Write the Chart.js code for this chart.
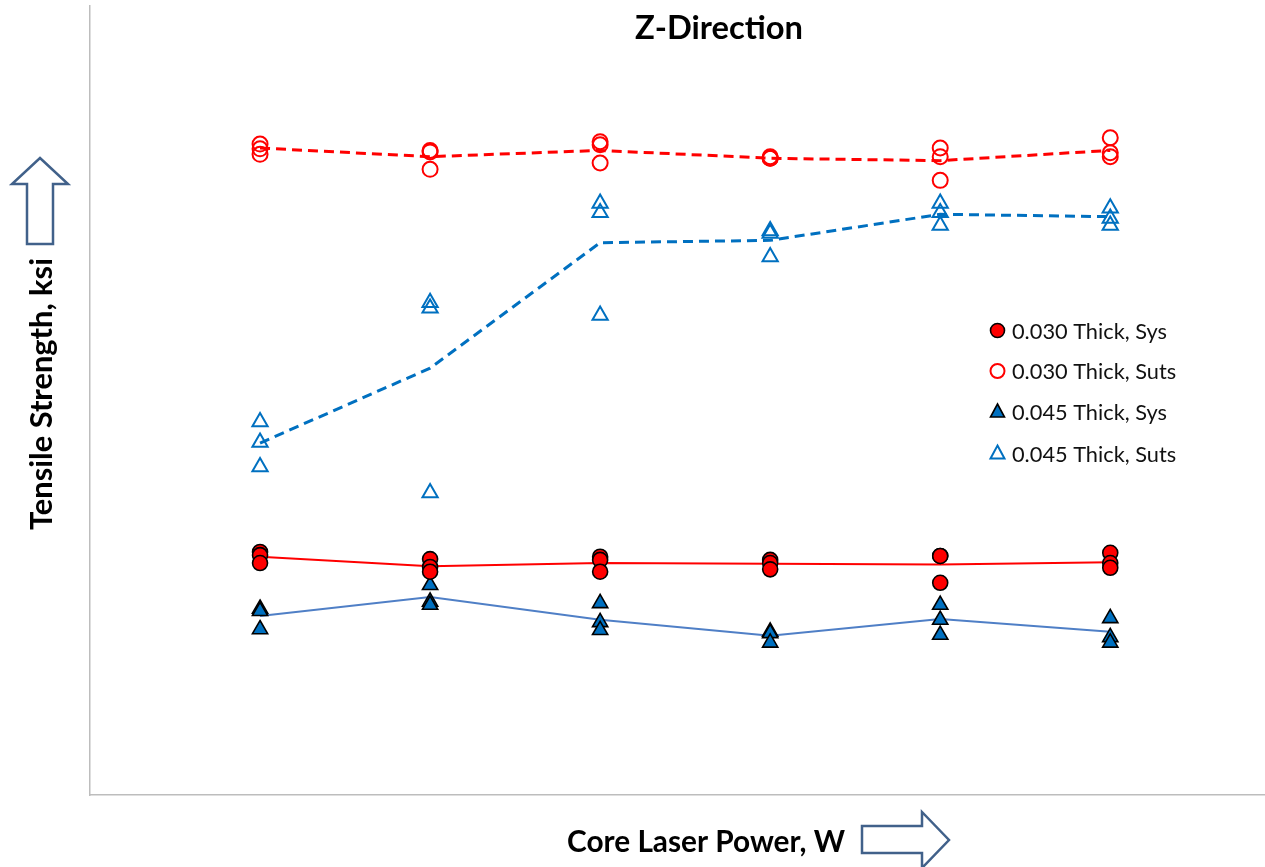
<!DOCTYPE html>
<html>
<head>
<meta charset="utf-8">
<style>
html,body{margin:0;padding:0;background:#fff;}
#wrap{width:1265px;height:867px;position:relative;}
</style>
<script src="https://cdn.jsdelivr.net/npm/chart.js@4/dist/chart.umd.min.js"></script>
</head>
<body>
<div id="wrap"><canvas id="c" width="1265" height="867"></canvas></div>
<script>
// Power levels (positions along the x axis; no tick labels in the original)
const powerLevels = [1, 2, 3, 4, 5, 6];

// Replicate readings per power level (arbitrary ksi units)
const sys030 = [[30.8,30.4,29.4],[29.9,28.9,28.3],[30.2,29.8,28.3],[29.8,29.4,28.6],[30.3,30.3,26.9],[30.7,29.4,28.8]];
const suts030 = [[82.5,81.9,81.2],[81.7,81.5,79.3],[82.8,82.4,80.1],[80.9,80.7,80.7],[82.0,80.9,77.9],[83.3,81.4,80.9]];
const sys045 = [[23.6,23.3,21.0],[26.6,24.5,24.1],[24.3,21.9,20.9],[20.7,20.5,19.3],[24.1,22.2,20.3],[22.4,20.0,19.3]];
const suts045 = [[47.3,44.7,41.6],[62.4,61.7,38.3],[75.0,73.8,60.8],[71.5,71.2,68.2],[75.0,73.8,72.2],[74.4,73.1,72.2]];

// Average trend lines
const sys030Avg = [30.2, 29.0, 29.4, 29.3, 29.2, 29.5];
const suts030Avg = [82.0, 80.9, 81.7, 80.7, 80.4, 81.7];
const sys045Avg = [22.7, 25.1, 22.2, 20.2, 22.3, 20.7];
const suts045Avg = [44.6, 54.1, 70.0, 70.3, 73.6, 73.3];

const seriesNames = ['0.030 Thick, Sys', '0.030 Thick, Suts', '0.045 Thick, Sys', '0.045 Thick, Suts'];

const toPts = reps => powerLevels.flatMap((x, i) => reps[i].map(y => ({x, y})));
const toLine = vals => powerLevels.map((x, i) => ({x, y: vals[i]}));

const RED = '#FF0000', BLUE = '#0070C0', LBLUE = '#4F7FC6';

const datasets = [
  {label: seriesNames[0], data: toPts(sys030), pointStyle: 'circle', pointRadius: 7.5, pointBackgroundColor: RED, pointBorderColor: '#000', pointBorderWidth: 1.6, showLine: false},
  {label: seriesNames[1], data: toPts(suts030), pointStyle: 'circle', pointRadius: 7.5, pointBackgroundColor: 'rgba(0,0,0,0)', pointBorderColor: RED, pointBorderWidth: 2, showLine: false},
  {label: seriesNames[2], data: toPts(sys045), pointStyle: 'triangle', pointRadius: 8.8, pointBackgroundColor: BLUE, pointBorderColor: '#000', pointBorderWidth: 1.6, showLine: false},
  {label: seriesNames[3], data: toPts(suts045), pointStyle: 'triangle', pointRadius: 8.8, pointBackgroundColor: 'rgba(0,0,0,0)', pointBorderColor: BLUE, pointBorderWidth: 2, showLine: false},
  {label: 'avg1', data: toLine(sys030Avg), showLine: true, pointRadius: 0, borderColor: RED, borderWidth: 2, fill: false},
  {label: 'avg2', data: toLine(suts030Avg), showLine: true, pointRadius: 0, borderColor: RED, borderWidth: 3, borderDash: [10, 6], fill: false},
  {label: 'avg3', data: toLine(sys045Avg), showLine: true, pointRadius: 0, borderColor: LBLUE, borderWidth: 2, fill: false},
  {label: 'avg4', data: toLine(suts045Avg), showLine: true, pointRadius: 0, borderColor: BLUE, borderWidth: 3, borderDash: [10, 6], fill: false}
];

function fitFont(ctx, text, weight, family, targetW) {
  ctx.font = weight + ' 100px ' + family;
  const w = ctx.measureText(text).width;
  return weight + ' ' + (100 * targetW / w).toFixed(2) + 'px ' + family;
}

const FAMILY = 'Lato, "Open Sans", sans-serif';

const deco = {
  id: 'deco',
  afterDraw(chart) {
    const ctx = chart.ctx;
    ctx.save();
    ctx.fillStyle = '#000';
    ctx.textBaseline = 'middle';
    ctx.textAlign = 'center';
    // Title
    ctx.font = fitFont(ctx, 'Z-Direction', 'bold', FAMILY, 168);
    ctx.fillText('Z-Direction', 719, 28);
    // X title
    ctx.font = fitFont(ctx, 'Core Laser Power, W', 'bold', FAMILY, 278);
    ctx.fillText('Core Laser Power, W', 706, 842);
    // Y title
    ctx.save();
    ctx.translate(42, 394);
    ctx.rotate(-Math.PI / 2);
    ctx.font = fitFont(ctx, 'Tensile Strength, ksi', 'bold', FAMILY, 272);
    ctx.fillText('Tensile Strength, ksi', 0, 0);
    ctx.restore();

    // Arrows
    ctx.strokeStyle = '#41618A';
    ctx.lineWidth = 2.5;
    ctx.lineJoin = 'miter';
    ctx.fillStyle = '#fff';
    const poly = pts => { ctx.beginPath(); pts.forEach((p, i) => i ? ctx.lineTo(p[0], p[1]) : ctx.moveTo(p[0], p[1])); ctx.closePath(); ctx.fill(); ctx.stroke(); };
    poly([[40,158],[68,184],[53,184],[53,244],[27,244],[27,184],[12,184]]);
    poly([[862,826],[922,826],[922,812],[949,840],[922,868],[922,853],[862,853]]);

    // Legend
    const rows = [330.5, 371, 412, 453.5];
    const mx = 997.5, tx = 1012;
    rows.forEach((y, i) => {
      ctx.beginPath();
      if (i < 2) {
        ctx.arc(mx, y, 7, 0, Math.PI * 2);
      } else {
        ctx.moveTo(mx, y - 8);
        ctx.lineTo(mx + 7, y + 5);
        ctx.lineTo(mx - 7, y + 5);
        ctx.closePath();
      }
      if (i === 0) { ctx.fillStyle = RED; ctx.fill(); ctx.strokeStyle = '#000'; ctx.lineWidth = 1.6; ctx.stroke(); }
      if (i === 1) { ctx.strokeStyle = RED; ctx.lineWidth = 2; ctx.stroke(); }
      if (i === 2) { ctx.fillStyle = BLUE; ctx.fill(); ctx.strokeStyle = '#000'; ctx.lineWidth = 1.6; ctx.stroke(); }
      if (i === 3) { ctx.strokeStyle = BLUE; ctx.lineWidth = 2; ctx.stroke(); }
    });
    ctx.fillStyle = '#111';
    ctx.textAlign = 'left';
    ctx.font = fitFont(ctx, seriesNames[0], 'normal', FAMILY, 155);
    rows.forEach((y, i) => ctx.fillText(seriesNames[i], tx, y + 1));
    ctx.restore();
  }
};

new Chart(document.getElementById('c').getContext('2d'), {
  type: 'scatter',
  data: {datasets},
  options: {
    responsive: false,
    animation: false,
    devicePixelRatio: 1,
    layout: {autoPadding: false, padding: {left: 90, top: 6, right: 0, bottom: 72}},
    plugins: {legend: {display: false}, tooltip: {enabled: false}, title: {display: false}},
    scales: {
      x: {type: 'linear', min: 0, max: 6.91, ticks: {display: false}, grid: {display: false, drawTicks: false},
          border: {display: true, color: '#BDBDBD', width: 1.5}, afterFit: s => { s.height = 0; }},
      y: {type: 'linear', min: 0, max: 100, ticks: {display: false}, grid: {display: false, drawTicks: false},
          border: {display: true, color: '#BDBDBD', width: 1.5}, afterFit: s => { s.width = 0; }}
    }
  },
  plugins: [deco]
});
</script>
</body>
</html>
